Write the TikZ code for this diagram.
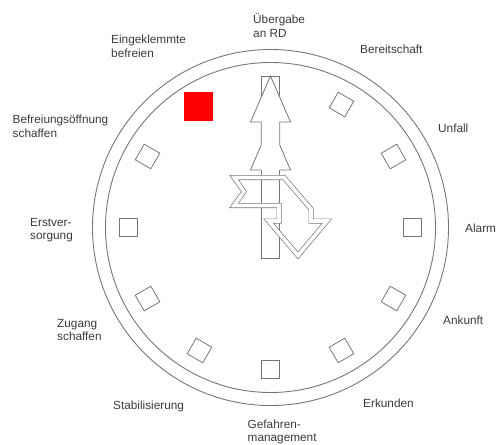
\documentclass[tikz,border=0pt]{standalone}
\usepackage{fontspec}
\setmainfont{Liberation Sans}
\definecolor{linegray}{HTML}{767676}
\definecolor{textgray}{HTML}{3A3A3A}
\definecolor{alertred}{HTML}{FF0000}
\begin{document}
\begin{tikzpicture}[x=1pt,y=-1pt,
  ring/.style={draw=linegray, line width=0.9pt},
  slot/.style={draw=linegray, line width=0.8pt, fill=white, minimum size=18pt, inner sep=0pt},
  handline/.style={draw=linegray, line width=0.8pt, line join=miter},
  hourhand/.style={draw=linegray, line width=0.7pt, double=white, double distance=3.6pt, line join=miter},
  lbl/.style={text=textgray, font=\fontsize{11.8}{13.5}\selectfont, inner sep=0pt, anchor=west, align=left}]

\useasboundingbox (0,0) rectangle (496,445);

% dial rings
\coordinate (c) at (270.5,227.5);
\draw[ring] (c) circle[radius=178pt];
\draw[ring] (c) circle[radius=165pt];

% hour markers (12 o'clock is covered by the hand, 11 o'clock is highlighted)
\foreach \a in {0,30,60,150,180,210,240,270,300,330}
  \node[slot, rotate=\a] (slot\a) at ({270.5+142*cos(\a)},{227.5-142*sin(\a)}) {};
\node[fill=alertred, minimum size=29.5pt, inner sep=0pt] (slot120) at (198.5,106.5) {};

% minute hand: shaft and double arrowhead
\draw[handline, fill=white] (261.2,76) rectangle (279.8,258);
\fill[white] (270.5,76) -- (290.5,122) -- (279.8,122) -- (279.8,145) -- (290.5,170)
  -- (250.5,170) -- (261.2,145) -- (261.2,122) -- (250.5,122) -- cycle;
\draw[handline] (279.8,170) -- (290.5,170) -- (279.8,145) -- (279.8,122) -- (290.5,122)
  -- (270.5,76) -- (250.5,122) -- (261.2,122) -- (261.2,145) -- (250.5,170) -- (261.2,170);

% hour hand: bent outline arrow
\draw[hourhand] (234,177.5) -- (284,177.5) -- (311,209) -- (311,221) -- (327,221)
  -- (298,255.5) -- (268.5,221) -- (279,221) -- (279,205.5) -- (234,205.5)
  -- (244,191.5) -- cycle;

% phase labels
\node[lbl] (l12) at (253,25.5) {Übergabe\\an RD};
\node[lbl] (l1) at (360,49) {Bereitschaft};
\node[lbl] (l2) at (438,128) {Unfall};
\node[lbl] (l3) at (465,228.5) {Alarm};
\node[lbl] (l4) at (443,320.5) {Ankunft};
\node[lbl] (l5) at (363,403.5) {Erkunden};
\node[lbl] (l6) at (247.5,432) {Gefahren-\\management};
\node[lbl] (l7) at (113,406.5) {Stabilisierung};
\node[lbl] (l8) at (57,330) {Zugang\\schaffen};
\node[lbl] (l9) at (30,230) {Erstver-\\sorgung};
\node[lbl] (l10) at (12.5,126.5) {Befreiungsöffnung\\schaffen};
\node[lbl] (l11) at (111,46.5) {Eingeklemmte\\befreien};
\end{tikzpicture}
\end{document}
